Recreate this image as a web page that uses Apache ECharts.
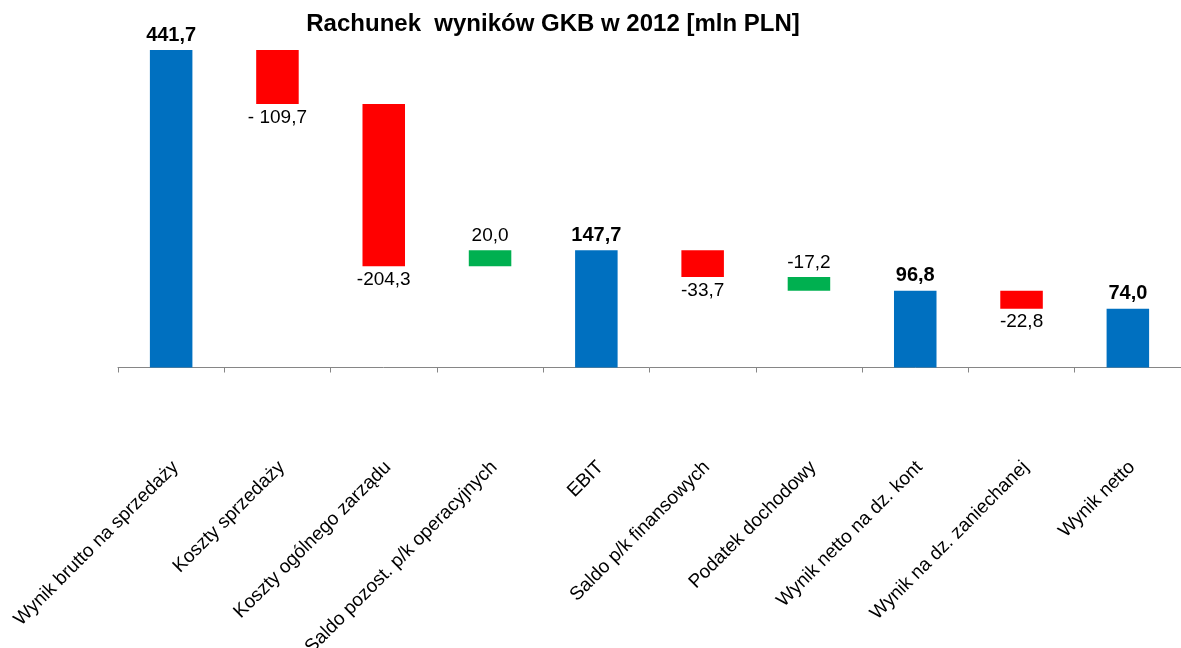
<!DOCTYPE html>
<html>
<head>
<meta charset="utf-8">
<title>Rachunek wyników GKB w 2012</title>
<script src="https://cdn.jsdelivr.net/npm/echarts@6/dist/echarts.min.js"></script>
<style>
    html, body { margin: 0; padding: 0; background: #fff; }
    #chart { width: 1181px; height: 648px; }
</style>
</head>
<body>
<div id="chart"></div>
<script>
    // kategorie osi X
    var categories = ['Wynik brutto na sprzedaży', 'Koszty sprzedaży', 'Koszty ogólnego zarządu',
        'Saldo pozost. p/k operacyjnych', 'EBIT', 'Saldo p/k finansowych', 'Podatek dochodowy',
        'Wynik netto na dz. kont', 'Wynik na dz. zaniechanej', 'Wynik netto']
    // zmiany (sumy czastkowe maja isTotal = true)
    var changes = [441.7, -109.7, -204.3, 20.0, 147.7, -33.7, -17.2, 96.8, -22.8, 74.0]
    var isTotal = [true, false, false, false, true, false, false, true, false, true]
    // rodzaj slupka: suma / koszt / zysk
    var kinds = ['total', 'cost', 'cost', 'gain', 'total', 'cost', 'gain', 'total', 'cost', 'total']
    // etykiety wartosci tak jak na oryginale
    var valueLabels = ['441,7', '- 109,7', '-204,3', '20,0', '147,7', '-33,7', '-17,2', '96,8', '-22,8', '74,0']

    var kindColors = { total: '#0070C0', cost: '#FF0000', gain: '#00B050' }
    var font = "'Liberation Sans', Arial, sans-serif"

    // podstawa (przezroczysta) i widoczna czesc slupka
    var bases = []
    var heights = []
    var running = 0
    changes.forEach(function (v, i) {
        if (isTotal[i]) {
            bases.push(0)
            heights.push(v)
            running = v
        } else if (v < 0) {
            bases.push(+(running + v).toFixed(1))
            heights.push(-v)
            running = running + v
        } else {
            bases.push(+running.toFixed(1))
            heights.push(v)
            running = running + v
        }
    })

    var visible = heights.map(function (h, i) {
        return {
            value: h,
            itemStyle: { color: kindColors[kinds[i]] },
            label: {
                position: kinds[i] === 'cost' ? 'bottom' : 'top',
                distance: kinds[i] === 'cost' ? 4 : 5,
                fontWeight: isTotal[i] ? 'bold' : 'normal',
                fontSize: isTotal[i] ? 20 : 19
            }
        }
    })

    var chart = echarts.init(document.getElementById('chart'))
    var option = {
        animation: false,
        title: {
            text: 'Rachunek  wyników GKB w 2012 [mln PLN]',
            left: 548,
            top: 7,
            textAlign: 'center',
            textStyle: { fontFamily: font, fontSize: 24, fontWeight: 'bold', color: '#000' }
        },
        grid: {
            left: 118,
            right: 0,
            top: 50,
            bottom: 280.5,
            containLabel: false,
            outerBoundsMode: 'none'
        },
        xAxis: {
            type: 'category',
            data: categories,
            axisLine: { lineStyle: { color: '#868686', width: 1 } },
            axisTick: { show: true, length: 5, lineStyle: { color: '#868686' } },
            axisLabel: {
                interval: 0,
                rotate: 45,
                margin: 101,
                padding: [0, -6, 0, 0],
                fontFamily: font,
                fontSize: 19,
                color: '#000'
            }
        },
        yAxis: {
            type: 'value',
            min: 0,
            max: 400,
            show: false,
            splitLine: { show: false }
        },
        series: [{
            name: 'base',
            type: 'bar',
            stack: 'w',
            barWidth: '40%',
            silent: true,
            itemStyle: { color: 'transparent' },
            data: bases
        }, {
            name: 'zmiana',
            type: 'bar',
            stack: 'w',
            barWidth: '40%',
            clip: true,
            label: {
                show: true,
                fontFamily: font,
                color: '#000',
                formatter: function (p) {
                    return valueLabels[p.dataIndex]
                }
            },
            data: visible
        }]
    }
    chart.setOption(option)
    window.onresize = chart.resize
</script>
</body>
</html>
